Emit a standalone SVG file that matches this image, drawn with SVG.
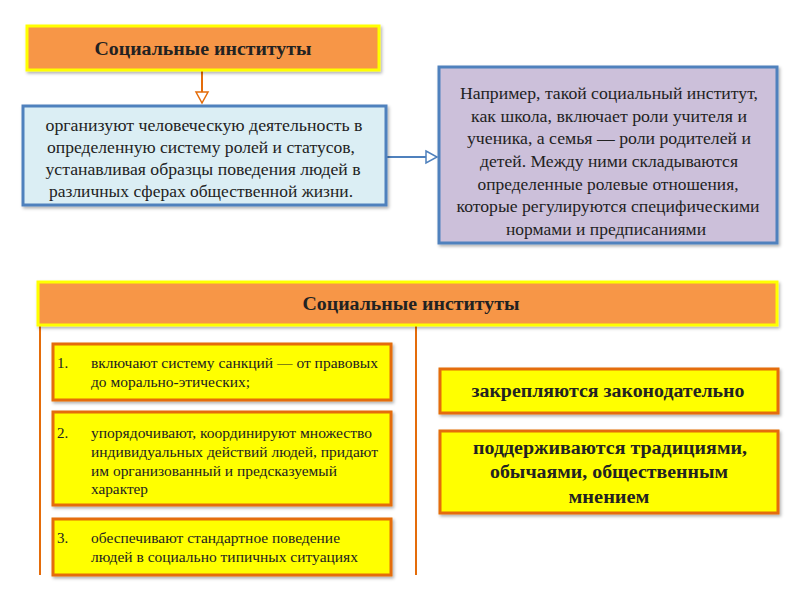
<svg xmlns="http://www.w3.org/2000/svg" width="800" height="600" viewBox="0 0 800 600">
<defs>
<filter id="sh" x="-5%" y="-10%" width="110%" height="130%">
<feDropShadow dx="1.5" dy="2" stdDeviation="1.5" flood-color="#000" flood-opacity="0.3"/>
</filter>
</defs>
<style>
text{font-family:"Liberation Serif","Times New Roman",serif;fill:#222}
.hdr{fill:#f79646;stroke:#ffff00;stroke-width:3}
.blue{fill:#dbeef4;stroke:#4f81bd;stroke-width:3}
.purp{fill:#ccc0da;stroke:#4f81bd;stroke-width:3}
.yel{fill:#ffff00;stroke:#e46c0a;stroke-width:3}
.t{font-size:16px;text-anchor:middle}
.h{font-size:18px;font-weight:bold;text-anchor:middle}
.s{font-size:15px}
.r{font-size:18px;font-weight:bold;text-anchor:middle}
</style>
<g id="connectors">
<line x1="202" y1="70" x2="202" y2="103" stroke="#e46c0a" stroke-width="2"/>
<path d="M196,92 L208,92 L202,103 Z" fill="#fff" stroke="#e46c0a" stroke-width="1.5"/>
<line x1="385" y1="157" x2="437" y2="157" stroke="#4f81bd" stroke-width="2"/>
<path d="M426,151 L437,157 L426,163 Z" fill="#fff" stroke="#4f81bd" stroke-width="1.5"/>
<line x1="40" y1="325" x2="40" y2="575" stroke="#e46c0a" stroke-width="2"/>
<line x1="416" y1="325" x2="416" y2="575" stroke="#e46c0a" stroke-width="2"/>
</g>
<g id="title1">
<rect class="hdr" x="27" y="26" width="352" height="44" filter="url(#sh)"/>
<text class="h" x="203" y="55" textLength="217" lengthAdjust="spacingAndGlyphs">Социальные институты</text>
</g>
<g id="def">
<rect class="blue" x="23" y="106" width="363" height="99" filter="url(#sh)"/>
<text class="t" x="204" y="131" textLength="317" lengthAdjust="spacingAndGlyphs">организуют человеческую деятельность в</text>
<text class="t" x="201" y="153" textLength="308" lengthAdjust="spacingAndGlyphs">определенную систему ролей и статусов,</text>
<text class="t" x="203" y="175" textLength="315" lengthAdjust="spacingAndGlyphs">устанавливая образцы поведения людей в</text>
<text class="t" x="201" y="197" textLength="304" lengthAdjust="spacingAndGlyphs">различных сферах общественной жизни.</text>
</g>
<g id="example">
<rect class="purp" x="439" y="67" width="338" height="176" filter="url(#sh)"/>
<text class="t" x="609" y="99" textLength="298" lengthAdjust="spacingAndGlyphs">Например, такой социальный институт,</text>
<text class="t" x="609" y="122" textLength="276" lengthAdjust="spacingAndGlyphs">как школа, включает роли учителя и</text>
<text class="t" x="609" y="144" textLength="284" lengthAdjust="spacingAndGlyphs">ученика, а семья — роли родителей и</text>
<text class="t" x="609" y="167" textLength="258" lengthAdjust="spacingAndGlyphs">детей. Между ними складываются</text>
<text class="t" x="608" y="190" textLength="261" lengthAdjust="spacingAndGlyphs">определенные ролевые отношения,</text>
<text class="t" x="608" y="212" textLength="303" lengthAdjust="spacingAndGlyphs">которые регулируются специфическими</text>
<text class="t" x="606" y="235" textLength="200" lengthAdjust="spacingAndGlyphs">нормами и предписаниями</text>
</g>
<g id="title2">
<rect class="hdr" x="38" y="282" width="739" height="43" filter="url(#sh)"/>
<text class="h" x="411" y="310" textLength="217" lengthAdjust="spacingAndGlyphs">Социальные институты</text>
</g>
<g id="item1">
<rect class="yel" x="53" y="344" width="338" height="56" filter="url(#sh)"/>
<text class="s" x="57" y="368">1.</text>
<text class="s" x="91" y="368" textLength="287" lengthAdjust="spacingAndGlyphs">включают систему санкций — от правовых</text>
<text class="s" x="91" y="387" textLength="159" lengthAdjust="spacingAndGlyphs">до морально-этических;</text>
</g>
<g id="item2">
<rect class="yel" x="53" y="412" width="338" height="93" filter="url(#sh)"/>
<text class="s" x="57" y="438">2.</text>
<text class="s" x="91" y="438" textLength="281" lengthAdjust="spacingAndGlyphs">упорядочивают, координируют множество</text>
<text class="s" x="91" y="457" textLength="287" lengthAdjust="spacingAndGlyphs">индивидуальных действий людей, придают</text>
<text class="s" x="91" y="476" textLength="246" lengthAdjust="spacingAndGlyphs">им организованный и предсказуемый</text>
<text class="s" x="91" y="494" textLength="57" lengthAdjust="spacingAndGlyphs">характер</text>
</g>
<g id="item3">
<rect class="yel" x="53" y="519" width="338" height="56" filter="url(#sh)"/>
<text class="s" x="57" y="543">3.</text>
<text class="s" x="91" y="543" textLength="249" lengthAdjust="spacingAndGlyphs">обеспечивают стандартное поведение</text>
<text class="s" x="91" y="562" textLength="267" lengthAdjust="spacingAndGlyphs">людей в социально типичных ситуациях</text>
</g>
<g id="law">
<rect class="yel" x="440" y="369" width="338" height="44" filter="url(#sh)"/>
<text class="r" x="608" y="397" textLength="273" lengthAdjust="spacingAndGlyphs">закрепляются законодательно</text>
</g>
<g id="tradition">
<rect class="yel" x="440" y="431" width="338" height="82" filter="url(#sh)"/>
<text class="r" x="610" y="454" textLength="274" lengthAdjust="spacingAndGlyphs">поддерживаются традициями,</text>
<text class="r" x="609" y="478" textLength="238" lengthAdjust="spacingAndGlyphs">обычаями, общественным</text>
<text class="r" x="609" y="503" textLength="81" lengthAdjust="spacingAndGlyphs">мнением</text>
</g>
</svg>
